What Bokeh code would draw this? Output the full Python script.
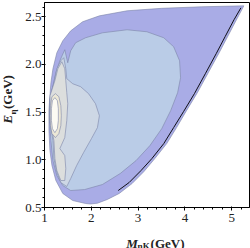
import math
from bokeh.plotting import figure
from bokeh.models import Range1d, FixedTicker
from bokeh.layouts import row, column
from bokeh.core.properties import value
from bokeh.embed import file_html
from bokeh.resources import INLINE

# ---- data ----
outer_x = [1.98, 1.877, 1.603, 1.391, 1.243, 1.159, 1.116, 1.095, 1.095, 1.116, 1.137, 1.180, 1.264,
           1.391, 1.560, 1.814, 2.173, 2.765, 3.505, 4.351, 5.260,
           5.112, 4.922, 4.732, 4.499, 4.266, 4.034, 3.822, 3.611, 3.357, 3.125, 2.871, 2.596, 2.342, 2.131]
outer_y = [0.537, 0.542, 0.573, 0.647, 0.783, 0.940, 1.097, 1.306, 1.516, 1.673, 1.809, 1.955, 2.123,
           2.249, 2.353, 2.448, 2.510, 2.563, 2.589, 2.605, 2.615,
           2.479, 2.301, 2.123, 1.914, 1.704, 1.516, 1.338, 1.170, 1.013, 0.877, 0.751, 0.647, 0.584, 0.545]

lev2_x = [1.106, 1.180, 1.243, 1.328, 1.433, 1.497, 1.560, 1.666, 1.877, 2.237, 2.765, 3.188, 3.548,
          3.759, 3.886, 3.907, 3.844, 3.696, 3.505, 3.252, 2.956, 2.617, 2.237, 1.856, 1.560, 1.391,
          1.264, 1.180, 1.137, 1.106]
lev2_y = [1.620, 1.777, 1.914, 2.039, 2.155, 2.018, 2.144, 2.228, 2.280, 2.332, 2.364, 2.343, 2.280,
          2.186, 2.039, 1.861, 1.704, 1.516, 1.327, 1.149, 0.992, 0.856, 0.741, 0.688, 0.678, 0.730,
          0.835, 0.992, 1.202, 1.411]

lev3_x = [1.112, 1.201, 1.264, 1.349, 1.412, 1.455, 1.476, 1.603, 1.772, 1.941, 2.089, 2.173, 2.131,
          2.004, 1.835, 1.687, 1.560, 1.476, 1.349, 1.264, 1.201, 1.180, 1.112]
lev3_y = [1.620, 1.809, 1.955, 2.039, 2.071, 1.955, 1.851, 1.798, 1.767, 1.694, 1.589, 1.463, 1.338,
          1.223, 1.076, 0.940, 0.804, 0.720, 0.762, 0.866, 1.013, 1.202, 1.411]

lev4_x = [1.118, 1.222, 1.285, 1.370, 1.433, 1.455, 1.476, 1.497, 1.476, 1.433, 1.328, 1.433, 1.455,
          1.433, 1.349, 1.264, 1.222, 1.201, 1.118]
lev4_y = [1.673, 1.830, 1.955, 2.029, 1.955, 1.830, 1.704, 1.589, 1.411, 1.233, 1.118, 1.045, 0.908,
          0.783, 0.783, 0.887, 1.013, 1.202, 1.411]

lev5_x = [1.233, 1.307, 1.349, 1.359, 1.349, 1.307, 1.233, 1.159, 1.127, 1.122, 1.127, 1.159]
lev5_y = [1.694, 1.662, 1.568, 1.463, 1.359, 1.275, 1.233, 1.275, 1.359, 1.463, 1.568, 1.662]

lev6_x = [1.222, 1.275, 1.296, 1.296, 1.275, 1.222, 1.169, 1.148, 1.148, 1.169]
lev6_y = [1.652, 1.620, 1.537, 1.411, 1.327, 1.285, 1.327, 1.411, 1.537, 1.620]

edge_x = [5.197, 5.049, 4.858, 4.668, 4.436, 4.203, 3.970, 3.759, 3.548, 3.294, 3.061, 2.808, 2.575]
edge_y = [2.594, 2.469, 2.291, 2.113, 1.903, 1.694, 1.505, 1.338, 1.170, 1.013, 0.887, 0.762, 0.678]

x_ticks = [1, 2, 3, 4, 5]
x_minor = [1.2, 1.4, 1.6, 1.8, 2.2, 2.4, 2.6, 2.8, 3.2, 3.4, 3.6, 3.8, 4.2, 4.4, 4.6, 4.8, 5.2]
y_ticks = [0.5, 1.0, 1.5, 2.0, 2.5]
y_minor = [0.6, 0.7, 0.8, 0.9, 1.1, 1.2, 1.3, 1.4, 1.6, 1.7, 1.8, 1.9, 2.1, 2.2, 2.3, 2.4, 2.6]
y_tick_labels = {0.5: "0.5", 1.0: "1.0", 1.5: "1.5", 2.0: "2.0", 2.5: "2.5"}

x_title = ["M", "ηK", "(GeV)"]
y_title = ["E", "η", "(GeV)"]

levels = [(outer_x, outer_y, "#a9ace6"),
          (lev2_x, lev2_y, "#bacce7"),
          (lev3_x, lev3_y, "#cdd7e5"),
          (lev4_x, lev4_y, "#dcdedd"),
          (lev5_x, lev5_y, "#ece8d6"),
          (lev6_x, lev6_y, "#fcfbf3")]

SERIF = "Liberation Serif"
TXT = "#222222"

# ---- main plot ----
p = figure(width=228, height=228, x_range=Range1d(1.0, 5.38), y_range=Range1d(0.5, 2.65),
           output_backend="svg", toolbar_location=None,
           min_border_left=20, min_border_right=1, min_border_top=2, min_border_bottom=21)
p.background_fill_color = "white"
p.border_fill_color = "white"
p.outline_line_color = "black"
p.outline_line_width = 1
p.xgrid.visible = False
p.ygrid.visible = False

for xs, ys, col in levels:
    p.patch(xs, ys, fill_color=col, line_color="#7c84a8", line_width=0.8, line_alpha=0.75)

p.line(edge_x, edge_y, line_color="#101018", line_width=1.0)

for ax in (p.xaxis[0], p.yaxis[0]):
    ax.axis_line_color = "black"
    ax.major_tick_line_color = "black"
    ax.minor_tick_line_color = "black"
    ax.major_tick_in = 1
    ax.major_tick_out = 3
    ax.minor_tick_in = 0
    ax.minor_tick_out = 2
    ax.major_label_text_font = SERIF
    ax.major_label_text_font_size = "13px"
    ax.major_label_text_color = TXT

p.xaxis[0].ticker = FixedTicker(ticks=x_ticks, minor_ticks=x_minor)
p.yaxis[0].ticker = FixedTicker(ticks=y_ticks, minor_ticks=y_minor)
p.yaxis[0].major_label_overrides = y_tick_labels
p.xaxis[0].major_label_standoff = 3
p.yaxis[0].major_label_standoff = 0

# ---- axis titles as text panels ----
def text_panel(w, h):
    f = figure(width=w, height=h, x_range=Range1d(0, w), y_range=Range1d(0, h),
               output_backend="svg", toolbar_location=None,
               x_axis_location=None, y_axis_location=None, min_border=0)
    f.outline_line_color = None
    f.background_fill_color = "white"
    f.border_fill_color = "white"
    f.xgrid.visible = False
    f.ygrid.visible = False
    return f

bx = text_panel(228, 20)
bx.text(x=[91], y=[5], text=[x_title[0]], text_font=value(SERIF), text_font_size="13px",
        text_font_style="bold italic", text_color=TXT, text_baseline="alphabetic")
bx.text(x=[103.5], y=[2.3], text=[x_title[1]], text_font=value(SERIF), text_font_size="9px",
        text_font_style="bold", text_color=TXT, text_baseline="alphabetic")
bx.text(x=[118], y=[5], text=[x_title[2]], text_font=value(SERIF), text_font_size="13px",
        text_font_style="bold", text_color=TXT, text_baseline="alphabetic")

ly = text_panel(22, 248)
ly.text(x=[6.7], y=[125], text=[y_title[0]], angle=math.pi / 2, text_font=value(SERIF),
        text_font_size="13px", text_font_style="bold italic", text_color=TXT, text_baseline="alphabetic")
ly.text(x=[12.3], y=[134], text=[y_title[1]], angle=math.pi / 2, text_font=value(SERIF),
        text_font_size="9px", text_font_style="bold", text_color=TXT, text_baseline="alphabetic")
ly.text(x=[6.7], y=[139.5], text=[y_title[2]], angle=math.pi / 2, text_font=value(SERIF),
        text_font_size="13px", text_font_style="bold", text_color=TXT, text_baseline="alphabetic")

layout = row(ly, column(p, bx))

open("out.html", "w").write(file_html(layout, INLINE))
